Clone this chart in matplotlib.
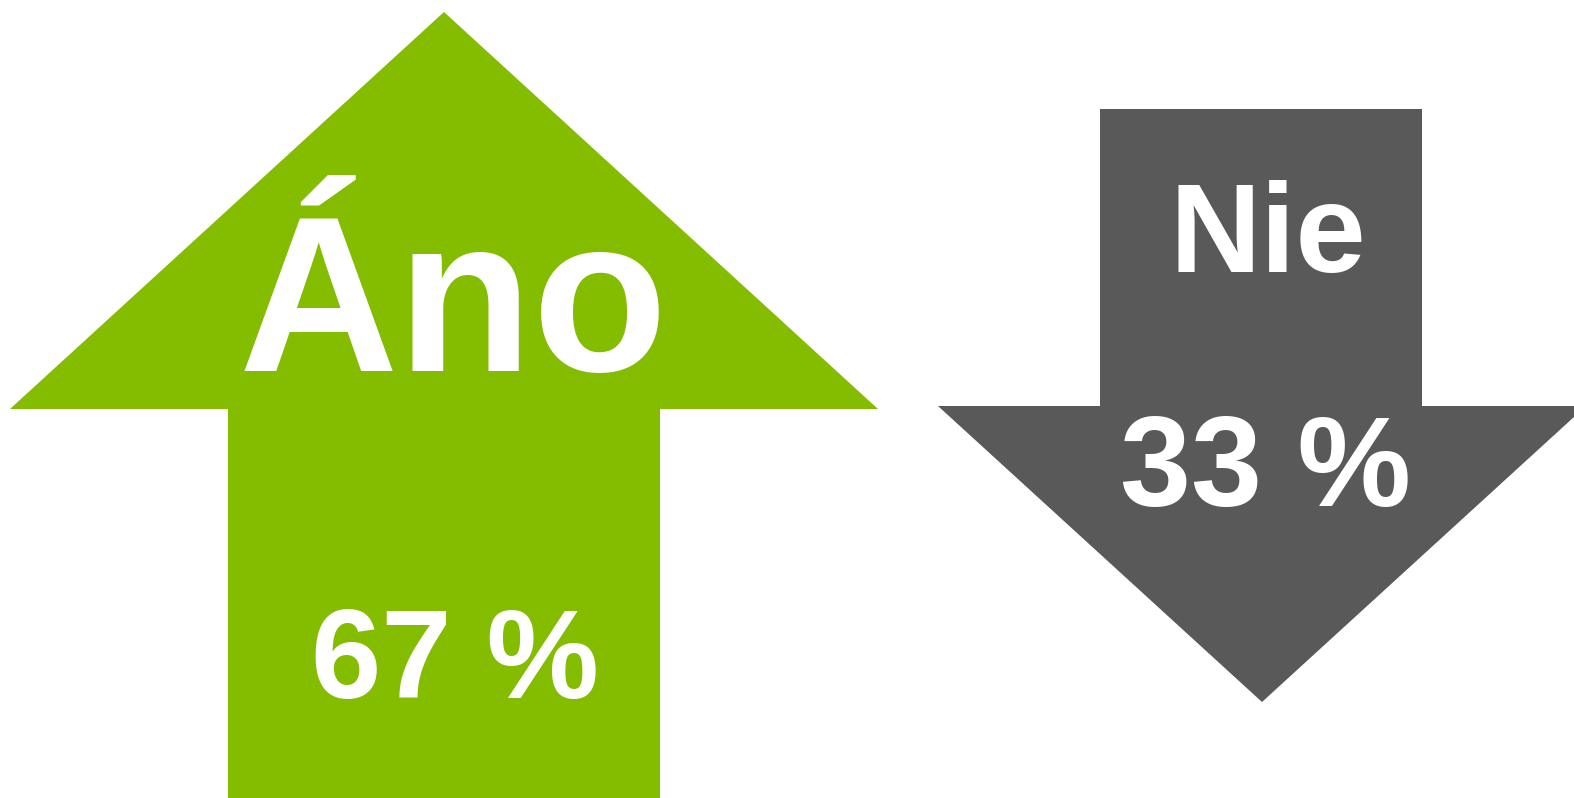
import matplotlib
matplotlib.use("Agg")
import matplotlib.pyplot as plt
from matplotlib.patches import Polygon

# Data
categories = ["Áno", "Nie"]
shares = [67, 33]
value_labels = [f"{v} %" for v in shares]

GREEN = "#84BC00"
GREY = "#595959"

W, H = 1574, 798
fig = plt.figure(figsize=(W / 100, H / 100), dpi=100)
ax = fig.add_axes([0, 0, 1, 1])
ax.set_xlim(0, W)
ax.set_ylim(H, 0)
ax.axis("off")

# Up arrow (green)
up = [(444, 12), (878, 409), (660, 409), (660, 800), (228, 800), (228, 409), (10, 409)]
ax.add_patch(Polygon(up, closed=True, facecolor=GREEN, edgecolor="none"))

# Down arrow (grey)
down = [(1100, 109), (1422, 109), (1422, 406), (1586, 406), (1262, 702), (938, 406), (1100, 406)]
ax.add_patch(Polygon(down, closed=True, facecolor=GREY, edgecolor="none"))

font = "Liberation Sans"
# Labels
ax.text(453, 371, categories[0], ha="center", va="baseline", color="white",
        fontsize=159, fontweight="bold", family=font)
ax.text(455, 698, value_labels[0], ha="center", va="baseline", color="white",
        fontsize=91, fontweight="bold", family=font)
ax.text(1268, 272, categories[1], ha="center", va="baseline", color="white",
        fontsize=91, fontweight="bold", family=font)
ax.text(1266, 506, value_labels[1], ha="center", va="baseline", color="white",
        fontsize=92, fontweight="bold", family=font)

fig.savefig("out.png", dpi=100)
